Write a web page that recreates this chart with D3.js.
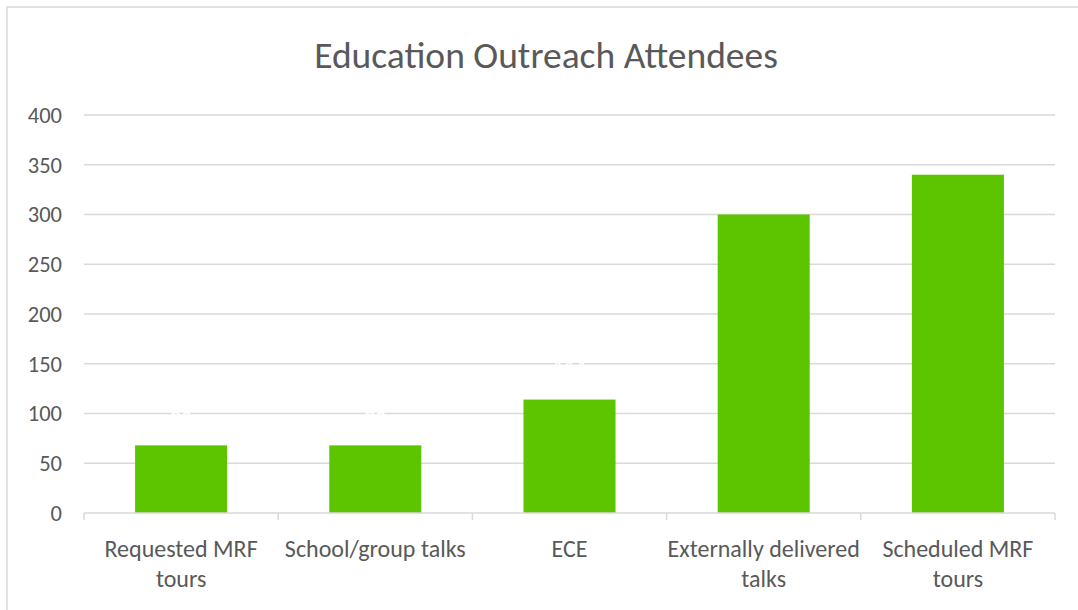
<!DOCTYPE html>
<html><head><meta charset="utf-8">
<script src="https://cdn.jsdelivr.net/npm/d3@7"></script>
<style>
html,body{margin:0;padding:0;background:#fff;}
svg{display:block;}
text{font-family:Carlito, Calibri, Lato, "Open Sans", sans-serif;}
</style></head>
<body><svg id="c" width="1078" height="610"></svg>
<script>
const categories = [["Requested MRF","tours"],["School/group talks"],["ECE"],["Externally delivered","talks"],["Scheduled MRF","tours"]];
const values = [68, 68, 114, 300, 340];
const yTicks = [0,50,100,150,200,250,300,350,400];
const title = "Education Outreach Attendees";

const svg = d3.select("#c");
const W = 1078, H = 610;
const m = {left:84, right:1055, top:115, bottom:513};
const textColor = "#595959";

// chart border
svg.append("rect").attr("x",7).attr("y",7).attr("width",W+20).attr("height",H+20)
  .attr("fill","#fff").attr("stroke","#d9d9d9").attr("stroke-width",1.5);

const x = d3.scaleBand().domain(d3.range(categories.length)).range([m.left,m.right]).paddingInner(0.526).paddingOuter(0.263);
const y = d3.scaleLinear().domain([0,400]).range([m.bottom,m.top]);

// gridlines
svg.append("g").selectAll("line").data(yTicks.filter(d=>d>0)).join("line")
  .attr("x1",m.left).attr("x2",m.right).attr("y1",d=>y(d)).attr("y2",d=>y(d))
  .attr("stroke","#d9d9d9").attr("stroke-width",1.5);

// y labels
svg.append("g").selectAll("text").data(yTicks).join("text")
  .attr("x",62).attr("y",d=>y(d)).attr("dy","0.35em").attr("text-anchor","end")
  .attr("font-size",22.5).attr("fill",textColor).text(d=>d);

// bars
svg.append("g").selectAll("rect").data(values).join("rect")
  .attr("x",(d,i)=>x(i)).attr("width",x.bandwidth())
  .attr("y",d=>y(d)).attr("height",d=>y(0)-y(d)).attr("fill","#5cc500");

// white data labels (invisible as in reference)
svg.append("g").selectAll("text").data(values).join("text")
  .attr("x",(d,i)=>x(i)+x.bandwidth()/2).attr("y",d=>y(d)-32).attr("dy","0.35em")
  .attr("text-anchor","middle").attr("font-size",22).attr("fill","#ffffff").text(d=>d);

// x axis baseline and ticks
svg.append("line").attr("x1",m.left).attr("x2",m.right).attr("y1",m.bottom).attr("y2",m.bottom)
  .attr("stroke","#d9d9d9").attr("stroke-width",1.5);
svg.append("g").selectAll("line").data(d3.range(categories.length+1)).join("line")
  .attr("x1",i=>m.left+i*(m.right-m.left)/categories.length).attr("x2",i=>m.left+i*(m.right-m.left)/categories.length)
  .attr("y1",m.bottom).attr("y2",m.bottom+7).attr("stroke","#d9d9d9").attr("stroke-width",1.5);

// x labels
const xl = svg.append("g").selectAll("text").data(categories).join("text")
  .attr("x",(d,i)=>x(i)+x.bandwidth()/2).attr("y",549)
  .attr("text-anchor","middle").attr("font-size",24).attr("fill",textColor);
xl.selectAll("tspan").data(d=>d).join("tspan")
  .attr("x",function(){return d3.select(this.parentNode).attr("x");})
  .attr("dy",(d,i)=>i===0?"0.35em":"30px").text(d=>d);

// title
svg.append("text").attr("x",546).attr("y",55).attr("dy","0.35em").attr("text-anchor","middle")
  .attr("font-size",37.5).attr("fill",textColor).text(title);
</script></body></html>
